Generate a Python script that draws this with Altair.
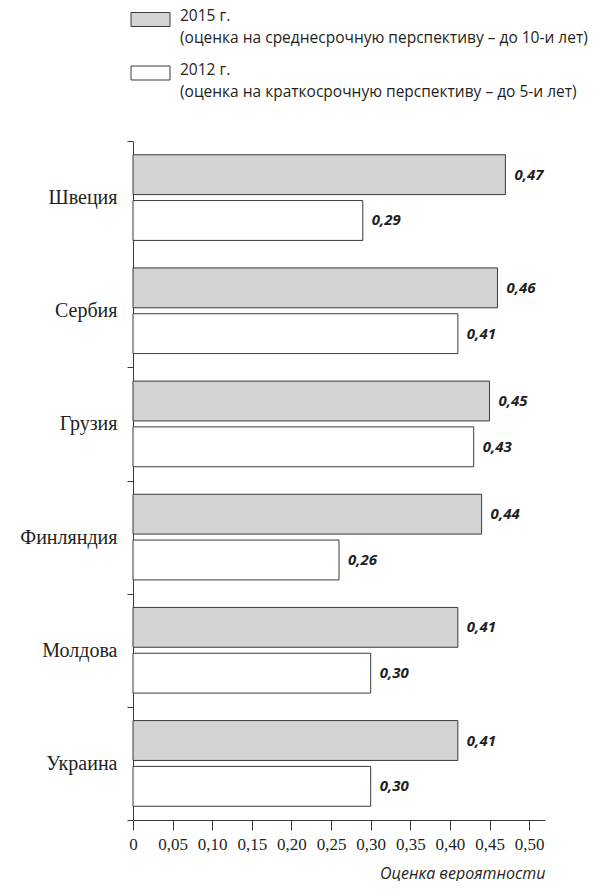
import altair as alt
import pandas as pd

countries = ["Швеция", "Сербия", "Грузия", "Финляндия", "Молдова", "Украина"]
v2015 = [0.47, 0.46, 0.45, 0.44, 0.41, 0.41]
v2012 = [0.29, 0.41, 0.43, 0.26, 0.30, 0.30]
series = ["2015", "2012"]
legend_line1 = ["2015 г.", "2012 г."]
legend_line2 = [
    "(оценка на среднесрочную перспективу – до 10-и лет)",
    "(оценка на краткосрочную перспективу – до 5-и лет)",
]
tick_values = [0, 0.05, 0.10, 0.15, 0.20, 0.25, 0.30, 0.35, 0.40, 0.45, 0.50]
x_title = "Оценка вероятности"

rows = []
for c, a, b in zip(countries, v2015, v2012):
    rows.append({"country": c, "series": series[0], "value": a})
    rows.append({"country": c, "series": series[1], "value": b})
df = pd.DataFrame(rows)

leg_df = pd.DataFrame({"series": series, "line1": legend_line1, "line2": legend_line2})

FILL = ["#d1d3d4", "#ffffff"]
STROKE = "#3a3a3a"
TXT = "#231f20"
SERIF = "Liberation Serif"
SANS = "Open Sans"

base = alt.Chart(df).transform_calculate(
    label="replace(format(datum.value, '.2f'), '.', ',')"
).encode(
    y=alt.Y(
        "country:N",
        sort=countries,
        scale=alt.Scale(paddingInner=0, paddingOuter=0),
        axis=alt.Axis(
            title=None,
            tickBand="extent",
            tickSize=6,
            tickColor=STROKE,
            tickOpacity={"condition": {"test": "datum.value === 'Швеция'", "value": 0}, "value": 1},
            domainColor=STROKE,
            labelFont=SERIF,
            labelFontSize=20,
            labelColor=TXT,
            labelPadding=10,
            minExtent=125,
            maxExtent=125,
        ),
    ),
    yOffset=alt.YOffset(
        "series:N", sort=series, scale=alt.Scale(paddingInner=0.13, paddingOuter=0.3)
    ),
)

x_enc = alt.X(
    "value:Q",
    scale=alt.Scale(domain=[0, 0.52], nice=False, zero=True),
    axis=alt.Axis(
        values=tick_values,
        labelExpr="datum.value == 0 ? '0' : replace(format(datum.value, '.2f'), '.', ',')",
        grid=False,
        tickSize=10,
        tickColor=STROKE,
        domainColor=STROKE,
        labelFont=SERIF,
        labelFontSize=17,
        labelColor=TXT,
        labelPadding=6,
        labelFlush=False,
        title=x_title,
        titleFont=SANS,
        titleFontStyle="italic",
        titleFontWeight="normal",
        titleFontSize=16,
        titleColor=TXT,
        titleAnchor="end",
        titlePadding=13,
    ),
)

bars = base.mark_bar(stroke=STROKE, strokeWidth=1).encode(
    x=x_enc,
    fill=alt.Fill("series:N", scale=alt.Scale(domain=series, range=FILL), legend=None),
)

labels = base.mark_text(
    align="left",
    baseline="middle",
    dx=9,
    font=SANS,
    fontStyle="italic",
    fontWeight="bold",
    fontSize=15,
    color=TXT,
).encode(x=alt.X("value:Q"), text="label:N")

main = alt.layer(bars, labels).properties(width=412, height=679)

leg_base = alt.Chart(leg_df).encode(
    y=alt.Y(
        "series:N",
        sort=series,
        axis=None,
        scale=alt.Scale(type="point", range=[11.5, 65], padding=0),
    )
)
leg_rect = leg_base.mark_bar(height=14, stroke=STROKE, strokeWidth=1).encode(
    x=alt.value(-2),
    x2=alt.value(37),
    fill=alt.Fill("series:N", scale=alt.Scale(domain=series, range=FILL), legend=None),
)
leg_t1 = leg_base.mark_text(
    align="left", baseline="middle", font=SANS, fontSize=15.5, color=TXT, dy=-3.5
).encode(x=alt.value(47), text="line1:N")
leg_t2 = leg_base.mark_text(
    align="left", baseline="middle", font=SANS, fontSize=15.5, color=TXT, dy=18.5
).encode(x=alt.value(47), text="line2:N")

legend = alt.layer(leg_rect, leg_t1, leg_t2).properties(width=412, height=100)

chart = (
    alt.vconcat(legend, main, spacing=23)
    .properties(padding=0)
    .configure_view(stroke=None)
)

chart.save("out.html", embed_options={"renderer": "svg", "actions": False})
